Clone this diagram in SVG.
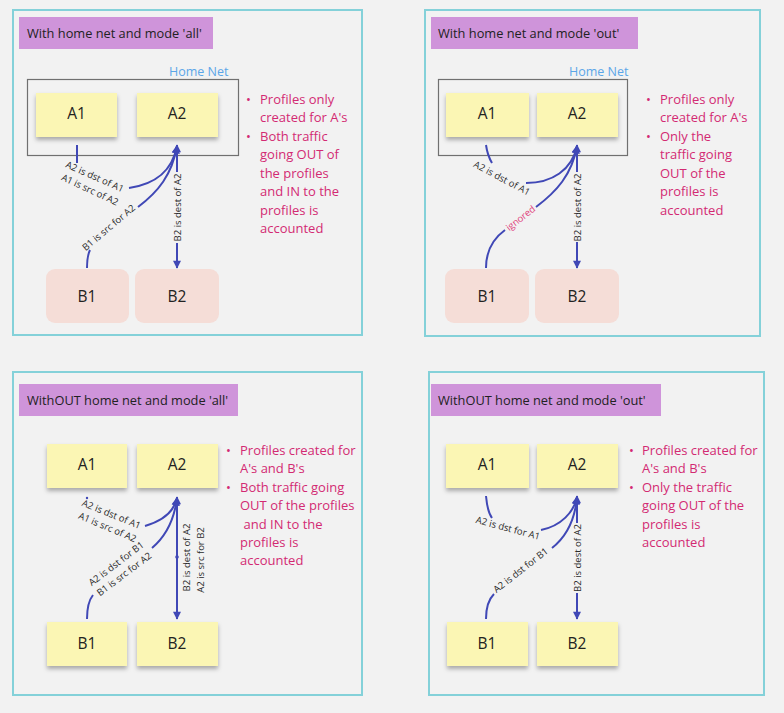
<svg xmlns="http://www.w3.org/2000/svg" width="784" height="713" viewBox="0 0 784 713">
<style>
text{font-family:"Open Sans","Noto Sans","Liberation Sans",sans-serif}
.panel{fill:#f2f2f2;stroke:#84d1d9;stroke-width:2}
.title{fill:#cf94da}
.ttext{font-size:12.8px;fill:#222}
.home{fill:none;stroke:#707070;stroke-width:1.2}
.hlabel{font-size:12.5px;fill:#5ba6e8}
.sticky{fill:#fbf6b4;filter:url(#shadow)}
.pink{fill:#f5ddd7}
.ntext{font-size:15.5px;fill:#222;text-anchor:middle;dominant-baseline:central}
.bul{font-size:13px;fill:#d32a72}
.conn{fill:none;stroke:#4048b6;stroke-width:2}
.arr{marker-end:url(#ah)}
.clabel{font-size:9.5px;fill:#2a2a2a;text-anchor:middle;dominant-baseline:central}
.ign{font-size:9.5px;fill:#e0407a;text-anchor:middle;dominant-baseline:central}
</style>
<defs>
<filter id="shadow" x="-10%" y="-10%" width="120%" height="140%">
<feDropShadow dx="0" dy="3" stdDeviation="2" flood-color="#000" flood-opacity="0.3"/>
</filter>
<marker id="ah" viewBox="0 0 10 10" refX="9" refY="5" markerUnits="userSpaceOnUse" markerWidth="9" markerHeight="8" orient="auto">
<path d="M0,0 L10,5 L0,10 z" fill="#4048b6"/>
</marker>
</defs>
<rect width="784" height="713" fill="#f2f2f2"/>

<!-- Panel 1 -->
<g id="panel1">
<rect class="panel" x="13" y="10" width="349" height="325"/>
<g id="p1-title"><rect class="title" x="19" y="17" width="194" height="32"/><text class="ttext" x="27" y="37.5">With home net and mode 'all'</text></g>
<g id="p1-homenet"><rect class="home" x="27.5" y="79.5" width="211" height="76"/><text class="hlabel" x="169" y="76">Home Net</text></g>
<g id="p1-A1"><rect class="sticky" x="36" y="93" width="81" height="44"/><text class="ntext" x="76.5" y="113">A1</text></g>
<g id="p1-A2"><rect class="sticky" x="137" y="93" width="81" height="44"/><text class="ntext" x="177" y="113">A2</text></g>
<g id="p1-B1"><rect class="pink" x="46" y="269" width="83" height="54" rx="9"/><text class="ntext" x="87" y="296">B1</text></g>
<g id="p1-B2"><rect class="pink" x="135" y="269" width="84" height="54" rx="9"/><text class="ntext" x="177" y="296">B2</text></g>
<g id="p1-notes"><text class="bul">
<tspan x="246" y="104">•</tspan><tspan x="260" y="104">Profiles only</tspan>
<tspan x="260" y="122">created for A's</tspan>
<tspan x="246" y="140.5">•</tspan><tspan x="260" y="140.5">Both traffic</tspan>
<tspan x="260" y="159">going OUT of</tspan>
<tspan x="260" y="178">the profiles</tspan>
<tspan x="260" y="196">and IN to the</tspan>
<tspan x="260" y="214.5">profiles is</tspan>
<tspan x="260" y="233">accounted</tspan>
</text></g>
</g>

<!-- Panel 2 -->
<g id="panel2">
<rect class="panel" x="425" y="10" width="335" height="326"/>
<g id="p2-title"><rect class="title" x="431" y="17" width="207" height="32"/><text class="ttext" x="438" y="37.5">With home net and mode 'out'</text></g>
<g id="p2-homenet"><rect class="home" x="438.5" y="79.5" width="189" height="76"/><text class="hlabel" x="569" y="76">Home Net</text></g>
<g id="p2-A1"><rect class="sticky" x="446" y="93" width="83" height="44"/><text class="ntext" x="487" y="113">A1</text></g>
<g id="p2-A2"><rect class="sticky" x="537" y="93" width="81" height="44"/><text class="ntext" x="577" y="113">A2</text></g>
<g id="p2-B1"><rect class="pink" x="445" y="269" width="84" height="54" rx="9"/><text class="ntext" x="487" y="296">B1</text></g>
<g id="p2-B2"><rect class="pink" x="535" y="269" width="84" height="54" rx="9"/><text class="ntext" x="577" y="296">B2</text></g>
<g id="p2-notes"><text class="bul">
<tspan x="646" y="104">•</tspan><tspan x="660" y="104">Profiles only</tspan>
<tspan x="660" y="122">created for A's</tspan>
<tspan x="646" y="140.5">•</tspan><tspan x="660" y="140.5">Only the</tspan>
<tspan x="660" y="159">traffic going</tspan>
<tspan x="660" y="178">OUT of the</tspan>
<tspan x="660" y="196">profiles is</tspan>
<tspan x="660" y="214.5">accounted</tspan>
</text></g>
</g>

<!-- Panel 3 -->
<g id="panel3">
<rect class="panel" x="13" y="372" width="349" height="323"/>
<g id="p3-title"><rect class="title" x="19" y="384" width="219" height="32"/><text class="ttext" x="27" y="405">WithOUT home net and mode 'all'</text></g>
<g id="p3-A1"><rect class="sticky" x="47" y="444" width="80" height="44"/><text class="ntext" x="87" y="464">A1</text></g>
<g id="p3-A2"><rect class="sticky" x="137" y="444" width="81" height="44"/><text class="ntext" x="177" y="464">A2</text></g>
<g id="p3-B1"><rect class="sticky" x="47" y="622" width="80" height="44"/><text class="ntext" x="87" y="643">B1</text></g>
<g id="p3-B2"><rect class="sticky" x="137" y="622" width="81" height="44"/><text class="ntext" x="177" y="643">B2</text></g>
<g id="p3-notes"><text class="bul">
<tspan x="226" y="455">•</tspan><tspan x="240" y="455">Profiles created for</tspan>
<tspan x="240" y="473">A's and B's</tspan>
<tspan x="226" y="491.5">•</tspan><tspan x="240" y="491.5">Both traffic going</tspan>
<tspan x="240" y="510">OUT of the profiles</tspan>
<tspan x="243.5" y="528.5">and IN to the</tspan>
<tspan x="240" y="547">profiles is</tspan>
<tspan x="240" y="565">accounted</tspan>
</text></g>
</g>

<!-- Panel 4 -->
<g id="panel4">
<rect class="panel" x="429" y="372" width="335" height="323"/>
<g id="p4-title"><rect class="title" x="431" y="384" width="230" height="32"/><text class="ttext" x="438" y="405">WithOUT home net and mode 'out'</text></g>
<g id="p4-A1"><rect class="sticky" x="446" y="444" width="83" height="44"/><text class="ntext" x="487" y="464">A1</text></g>
<g id="p4-A2"><rect class="sticky" x="537" y="444" width="81" height="44"/><text class="ntext" x="577" y="464">A2</text></g>
<g id="p4-B1"><rect class="sticky" x="447" y="622" width="81" height="44"/><text class="ntext" x="487" y="643">B1</text></g>
<g id="p4-B2"><rect class="sticky" x="537" y="622" width="81" height="44"/><text class="ntext" x="577" y="643">B2</text></g>
<g id="p4-notes"><text class="bul">
<tspan x="629" y="455">•</tspan><tspan x="642" y="455">Profiles created for</tspan>
<tspan x="642" y="473">A's and B's</tspan>
<tspan x="629" y="491.5">•</tspan><tspan x="642" y="491.5">Only the traffic</tspan>
<tspan x="642" y="510">going OUT of the</tspan>
<tspan x="642" y="528.5">profiles is</tspan>
<tspan x="642" y="547">accounted</tspan>
</text></g>
</g>

<g id="connectors">
<!-- panel 1 -->
<path class="conn" d="M77,145 L77,163"/>
<path class="conn arr" d="M129,188 C155,184 172,172 177,146"/>
<path class="conn" d="M87,268 C87,258 88,254 90,250"/>
<path class="conn arr" d="M138,207 C158,192 172,175 177,146"/>
<path class="conn arr" d="M177,172 L177,145"/>
<path class="conn arr" d="M177,243 L177,268"/>
<text class="clabel" transform="translate(95,176.5) rotate(24)">A2 is dst of A1</text>
<text class="clabel" transform="translate(90,189.5) rotate(25)">A1 is src of A2</text>
<text class="clabel" transform="translate(108.5,227.5) rotate(-40)">B1 is src for A2</text>
<text class="clabel" transform="translate(177,207.5) rotate(-90)">B2 is dest of A2</text>
<!-- panel 2 -->
<path class="conn" d="M486,145 C487,152 489,158 492,163"/>
<path class="conn arr" d="M526,183 C552,183 572,170 577,146"/>
<path class="conn" d="M486,268 C486,250 494,238 505,230"/>
<path class="conn arr" d="M536,207 C556,192 572,175 577,146"/>
<path class="conn arr" d="M577,172 L577,145"/>
<path class="conn arr" d="M577,242 L577,268"/>
<text class="clabel" transform="translate(502,178) rotate(28)">A2 is dst of A1</text>
<text class="ign" transform="translate(520.5,218) rotate(-38)">ignored</text>
<text class="clabel" transform="translate(577,207.5) rotate(-90)">B2 is dest of A2</text>
<!-- panel 3 -->
<circle cx="87" cy="498" r="1.2" fill="#4048b6"/>
<path class="conn arr" d="M145,526 C162,521 174,512 177,498"/>
<path class="conn" d="M87,619 C87,607 89,600 93,595"/>
<path class="conn arr" d="M152,548 C165,537 174,522 177,498"/>
<path class="conn arr" d="M177,558 L177,497"/>
<path class="conn arr" d="M177,556 L177,619"/>
<circle cx="177" cy="557" r="1.8" fill="#4048b6"/>
<text class="clabel" transform="translate(111.5,514) rotate(22)">A2 is dst of A1</text>
<text class="clabel" transform="translate(107.5,527) rotate(23)">A1 is src of A2</text>
<text class="clabel" transform="translate(116,563.5) rotate(-37)">A2 is dst for B1</text>
<text class="clabel" transform="translate(124,574) rotate(-37)">B1 is src for A2</text>
<text class="clabel" transform="translate(186,557.5) rotate(-90)">B2 is dest of A2</text>
<text class="clabel" transform="translate(200,560) rotate(-90)">A2 is src for B2</text>
<!-- panel 4 -->
<path class="conn" d="M486,496 C487,507 489,514 492,518"/>
<path class="conn arr" d="M541,530 C561,526 574,512 577,497"/>
<path class="conn" d="M486,619 C486,607 489,599 494,594"/>
<path class="conn arr" d="M552,548 C566,537 575,520 577,497"/>
<path class="conn arr" d="M577,523 L577,496"/>
<path class="conn arr" d="M577,593 L577,619"/>
<text class="clabel" transform="translate(508,528) rotate(15)">A2 is dst for A1</text>
<text class="clabel" transform="translate(520.5,570) rotate(-38)">A2 is dst for B1</text>
<text class="clabel" transform="translate(577,558) rotate(-90)">B2 is dest of A2</text>
</g>
</svg>
